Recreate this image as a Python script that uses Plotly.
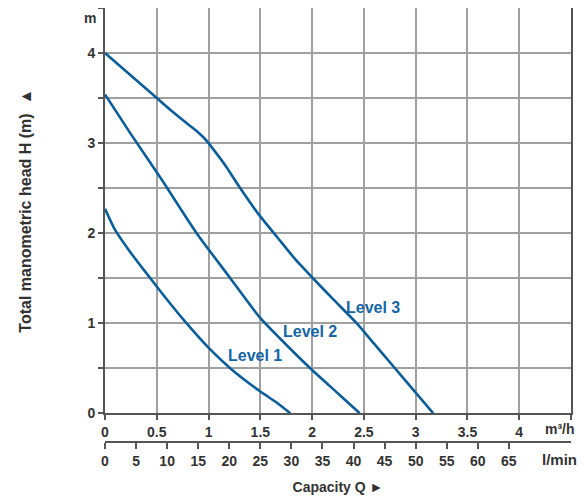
import plotly.graph_objects as go

# Data (Q in m³/h, H in m)
level1_q = [0, 0.1, 0.25, 0.43, 0.6, 0.772, 0.99, 1.22, 1.49, 1.65, 1.79]
level1_h = [2.27, 2.03, 1.78, 1.51, 1.26, 1.02, 0.74, 0.49, 0.25, 0.125, 0.0]

level2_q = [0, 0.25, 0.55, 0.885, 1.21, 1.49, 1.69, 2.0, 2.25, 2.46]
level2_h = [3.54, 3.1, 2.59, 2.0, 1.5, 1.07, 0.83, 0.48, 0.22, 0.0]

level3_q = [0, 0.25, 0.5, 0.63, 0.79, 0.89, 0.95, 1.0, 1.08, 1.175, 1.3, 1.49, 1.66, 1.83, 2.0, 2.2, 2.43, 2.6, 2.8, 3.0, 3.17]
level3_h = [4.0, 3.75, 3.5, 3.37, 3.22, 3.13, 3.065, 3.0, 2.88, 2.73, 2.51, 2.2, 1.96, 1.72, 1.51, 1.27, 1.0, 0.77, 0.5, 0.23, 0.0]

series_names = ["Level 1", "Level 2", "Level 3"]
label_pos_q = [1.45, 1.98, 2.59]
label_pos_h = [0.64, 0.91, 1.18]

q_ticks = [0, 0.5, 1, 1.5, 2, 2.5, 3, 3.5, 4, 4.5]
q_ticklabels = ["0", "0.5", "1", "1.5", "2", "2.5", "3", "3.5", "4", ""]
h_ticks = [0, 0.5, 1, 1.5, 2, 2.5, 3, 3.5, 4, 4.5]
h_ticklabels = ["0", "", "1", "", "2", "", "3", "", "4", ""]
lmin_ticks = [0, 5, 10, 15, 20, 25, 30, 35, 40, 45, 50, 55, 60, 65]

LINE = "#0b5e99"
TXT = "#333333"
AX = "#555555"
GRID = "#a0a0a0"
FONT = "Liberation Sans, Arial, sans-serif"


def b(s):
    return f"<b>{s}</b>" if s else ""


fig = go.Figure()
for q, h, name in zip([level1_q, level2_q, level3_q], [level1_h, level2_h, level3_h], series_names):
    fig.add_trace(go.Scatter(x=q, y=h, mode="lines", name=name,
                             line=dict(color=LINE, width=2.6, shape="spline", smoothing=0.6),
                             showlegend=False, hoverinfo="skip"))
# invisible trace for the secondary (l/min) axis
fig.add_trace(go.Scatter(x=[0], y=[0], xaxis="x2", yaxis="y2", mode="markers",
                         marker=dict(opacity=0), showlegend=False, hoverinfo="skip"))

for name, q, h in zip(series_names, label_pos_q, label_pos_h):
    fig.add_annotation(x=q, y=h, text=b(name), showarrow=False, xref="x", yref="y",
                       xanchor="center", yanchor="middle",
                       font=dict(family=FONT, size=16, color="#1565a5"))

for txt, xp, yp, sz in [("m", -0.032, 0.977, 14), ("m³/h", 0.976, 0.028, 14), ("l/min", 0.976, -0.042, 15)]:
    fig.add_annotation(x=xp, y=yp, xref="paper", yref="paper", text=b(txt), showarrow=False,
                       xanchor="center", yanchor="middle",
                       font=dict(family=FONT, size=sz, color=TXT))

tickfont = dict(family=FONT, size=14, color=TXT)

# page body has an 8px default margin, so the figure is sized/offset to compensate
fig.update_layout(
    width=579, height=495,
    margin=dict(l=97, r=16, t=0, b=62, autoexpand=False),
    paper_bgcolor="white", plot_bgcolor="white",
    xaxis=dict(range=[0, 4.5], tickvals=q_ticks, ticktext=[b(t) for t in q_ticklabels], tickfont=tickfont,
               showgrid=True, gridcolor=GRID, gridwidth=1.5, showline=True, linecolor=AX,
               linewidth=2, mirror=True, ticks="outside", ticklen=5, tickwidth=1.5, tickcolor=AX,
               zeroline=False, anchor="y", automargin=False),
    yaxis=dict(range=[0, 4.5], domain=[0.064, 1], tickvals=h_ticks, ticktext=[b(t) for t in h_ticklabels],
               tickfont=tickfont, showgrid=True, gridcolor=GRID, gridwidth=1.5, showline=True,
               linecolor=AX, linewidth=2, mirror=True, ticks="outside", ticklen=5, tickwidth=1.5,
               tickcolor=AX, zeroline=False, anchor="x", automargin=False,
               title=dict(text=b("Total manometric head H (m)  ▲"), standoff=52,
                          font=dict(family=FONT, size=16, color=TXT))),
    xaxis2=dict(range=[0, 75], tickvals=lmin_ticks, ticktext=[b(str(t)) for t in lmin_ticks],
                tickfont=tickfont, anchor="y2",
                showgrid=False, showline=True, linecolor=AX, linewidth=2, ticks="outside",
                ticklen=6, tickwidth=1.5, tickcolor=AX, zeroline=False, automargin=False,
                title=dict(text=b("Capacity Q ►"), standoff=14,
                           font=dict(family=FONT, size=14, color=TXT))),
    yaxis2=dict(domain=[0, 0.002], visible=False, anchor="x2", range=[0, 1]),
)

fig.write_html("out.html")
